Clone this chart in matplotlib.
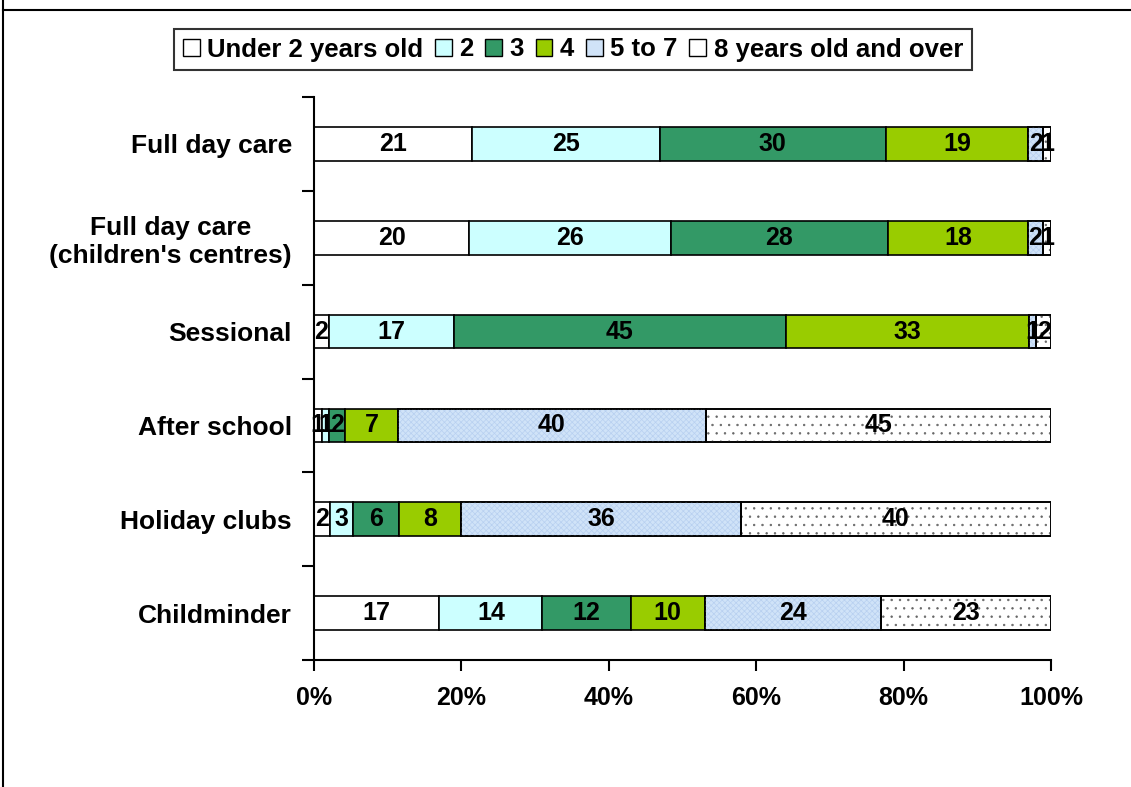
import numpy as np
import matplotlib; matplotlib.use("Agg")
import matplotlib.pyplot as plt
from matplotlib.patches import Patch
from matplotlib.lines import Line2D

plt.rcParams['font.family'] = ['Liberation Sans', 'DejaVu Sans']
plt.rcParams['font.weight'] = 'bold'
plt.rcParams['hatch.linewidth'] = 0.5

categories = ["Full day care", "Full day care\n(children's centres)", "Sessional",
              "After school", "Holiday clubs", "Childminder"]
ages = ["Under 2 years old", "2", "3", "4", "5 to 7", "8 years old and over"]
under2 = [21, 20, 2, 1, 2, 17]
two = [25, 26, 17, 1, 3, 14]
three = [30, 28, 45, 2, 6, 12]
four = [19, 18, 33, 7, 8, 10]
five_seven = [2, 2, 1, 40, 36, 24]
eight_plus = [1, 1, 2, 45, 40, 23]

series = [under2, two, three, four, five_seven, eight_plus]
colors = ["white", "#CCFFFF", "#339966", "#99CC00", "#D0E3F8", "white"]
hatches = [None, None, None, None, "xxxxxx", ".."]
hatch_cols = [None, None, None, None, "#B8D0F0", "#666666"]

# stacked to 100% like the original
vals = np.array(series, dtype=float)
pct = vals / vals.sum(axis=0) * 100

fig = plt.figure(figsize=(11.31, 7.87), dpi=100)
ax = fig.add_axes([314/1131, 1-660/787, (1051-314)/1131, (660-97)/787])

y = np.arange(len(categories))
left = np.zeros(len(categories))
bh = 0.36
for i in range(len(series)):
    ax.barh(y, pct[i], left=left, height=bh, color=colors[i], edgecolor="black",
            linewidth=1.2, zorder=2)
    if hatches[i]:
        ax.barh(y, pct[i], left=left, height=bh, fill=False, hatch=hatches[i],
                edgecolor=hatch_cols[i], linewidth=0, zorder=3)
        ax.barh(y, pct[i], left=left, height=bh, fill=False, edgecolor="black",
                linewidth=1.2, zorder=4)
    for j in range(len(categories)):
        ax.text(left[j] + pct[i][j]/2, y[j], f"{int(vals[i][j])}", ha="center",
                va="center", fontsize=18, fontweight="bold", zorder=5)
    left += pct[i]

ax.set_xlim(0, 100)
ax.set_ylim(len(categories) - 0.5, -0.5)
ax.set_xticks(np.arange(0, 101, 20))
ax.set_xticklabels([f"{v}%" for v in range(0, 101, 20)])
ax.set_yticks(y)
ax.set_yticklabels(categories, multialignment="center")
ax.set_yticks(np.arange(-0.5, len(categories)), minor=True)
ax.tick_params(axis="y", which="major", length=0, pad=16, labelsize=19)
ax.tick_params(axis="y", which="minor", length=9, width=1.5, direction="out")
ax.tick_params(axis="x", length=8, width=1.5, direction="out", pad=11, labelsize=18)
for s in ["top", "right"]:
    ax.spines[s].set_visible(False)
for s in ["left", "bottom"]:
    ax.spines[s].set_linewidth(1.5)

handles = [Patch(facecolor=c, edgecolor="black", linewidth=1.0) for c in colors]
leg = fig.legend(handles, ages, loc="center", bbox_to_anchor=(573/1131, 1-49.5/787),
                 ncol=6, fontsize=18.5, frameon=True, fancybox=False,
                 handlelength=0.65, handleheight=0.65, handletextpad=0.3,
                 columnspacing=0.45, borderpad=0.35)
leg.get_frame().set_edgecolor("black")
leg.get_frame().set_linewidth(1.5)

# outer frame lines visible at top and left
fig.add_artist(Line2D([3/1131, 3/1131], [0, 1], color="black", lw=1.5,
                      transform=fig.transFigure))
fig.add_artist(Line2D([3/1131, 1], [1-10/787, 1-10/787], color="black", lw=1.5,
                      transform=fig.transFigure))

fig.savefig("out.png", dpi=100)
